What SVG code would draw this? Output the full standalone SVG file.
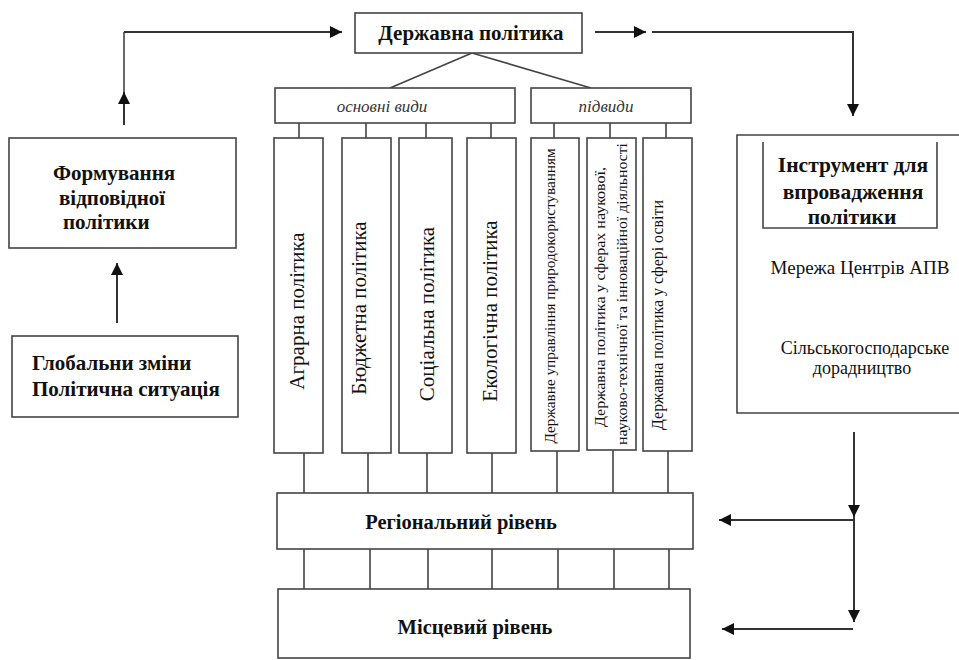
<svg xmlns="http://www.w3.org/2000/svg" width="959" height="660" viewBox="0 0 959 660">
<defs>
<marker id="ah" markerWidth="12" markerHeight="12" viewBox="0 0 12 12" refX="12" refY="6" orient="auto" markerUnits="userSpaceOnUse">
<path d="M0,0 L12,6 L0,12 Z" fill="#111"/>
</marker>
</defs>
<style>
.box{fill:#fff;stroke:#444;stroke-width:1.6}
.ln{fill:none;stroke:#444;stroke-width:1.6}
.ar{fill:none;stroke:#333;stroke-width:2;marker-end:url(#ah)}
text{fill:#111}
.b{font-weight:bold}
.i{font-style:italic;fill:#333;font-size:17px}
</style>
<rect width="959" height="660" fill="#fff"/>

<g id="connectors">
<line class="ln" x1="124" y1="125" x2="124" y2="32"/>
<line class="ar" x1="124" y1="125" x2="124" y2="92"/>
<line class="ar" x1="124" y1="32" x2="342" y2="32"/>
<line class="ar" x1="595" y1="32" x2="646" y2="32"/>
<path class="ar" d="M652,32 L853,32 L853,116"/>
<line class="ar" x1="117" y1="323" x2="117" y2="263"/>
<line class="ln" x1="390" y1="88" x2="472" y2="53"/>
<line class="ln" x1="472" y1="53" x2="591" y2="88"/>
<path class="ln" d="M299,123V138M366,123V138M426,123V138M491,123V138M554,123V138M610,123V138M666,123V138"/>
<path class="ln" d="M304,453V493M368,453V493M427,453V493M492,453V493M557,451V493M613,450V493M668,451V493"/>
<path class="ln" d="M304,549V589M370,549V589M428,549V589M492,549V589M558,549V589M614,549V589M669,549V589"/>
<line class="ar" x1="854" y1="432" x2="854" y2="517"/>
<line class="ar" x1="854" y1="517" x2="854" y2="622"/>
<line class="ar" x1="854" y1="520" x2="719" y2="520"/>
<line class="ar" x1="853" y1="629" x2="722" y2="629"/>
</g>

<g id="derzhavna">
<rect class="box" x="355" y="13" width="227" height="40"/>
<text class="b" font-family="Liberation Serif" x="471" y="40" font-size="21" text-anchor="middle">Державна політика</text>
</g>

<g id="osnovni">
<rect class="box" x="275" y="88" width="240" height="35"/>
<text class="i" font-family="Liberation Serif" x="382" y="112" text-anchor="middle">основні види</text>
</g>
<g id="pidvydy">
<rect class="box" x="531" y="88" width="160" height="35"/>
<text class="i" font-family="Liberation Serif" x="606" y="112" text-anchor="middle">підвиди</text>
</g>

<g id="ahrarna">
<rect class="box" x="274" y="138" width="49" height="315"/>
<text font-family="Liberation Serif" font-size="21" text-anchor="middle" transform="translate(304,311) rotate(-90)">Аграрна політика</text>
</g>
<g id="biudzhetna">
<rect class="box" x="342" y="138" width="49" height="315"/>
<text font-family="Liberation Serif" font-size="21" text-anchor="middle" transform="translate(366,308) rotate(-90)">Бюджетна політика</text>
</g>
<g id="sotsialna">
<rect class="box" x="399" y="138" width="53" height="315"/>
<text font-family="Liberation Serif" font-size="21" text-anchor="middle" transform="translate(434,314) rotate(-90)">Соціальна політика</text>
</g>
<g id="ekolohichna">
<rect class="box" x="467" y="138" width="49" height="315"/>
<text font-family="Liberation Serif" font-size="21" text-anchor="middle" transform="translate(497,311) rotate(-90)">Екологічна політика</text>
</g>
<g id="pryrodokorystuvannia">
<rect class="box" x="531" y="138" width="48" height="313"/>
<text font-family="Liberation Serif" font-size="15" text-anchor="middle" textLength="295" lengthAdjust="spacingAndGlyphs" transform="translate(555,296) rotate(-90)">Державне управління природокористуванням</text>
</g>
<g id="naukova">
<rect class="box" x="587" y="138" width="49" height="312"/>
<text font-family="Liberation Serif" font-size="15" text-anchor="middle" textLength="260" lengthAdjust="spacingAndGlyphs" transform="translate(605,297) rotate(-90)">Державна політика у сферах наукової,</text>
<text font-family="Liberation Serif" font-size="15" text-anchor="middle" textLength="302" lengthAdjust="spacingAndGlyphs" transform="translate(627,294) rotate(-90)">науково-технічної та інноваційної діяльності</text>
</g>
<g id="osvita">
<rect class="box" x="643" y="138" width="49" height="313"/>
<text font-family="Liberation Serif" font-size="16" text-anchor="middle" textLength="230" lengthAdjust="spacingAndGlyphs" transform="translate(663,315) rotate(-90)">Державна політика у сфері освіти</text>
</g>

<g id="rehionalnyi">
<rect class="box" x="277" y="493" width="416" height="56"/>
<text class="b" font-family="Liberation Serif" x="461" y="529" font-size="20.5" text-anchor="middle">Регіональний рівень</text>
</g>
<g id="mistsevyi">
<rect class="box" x="278" y="589" width="412" height="69"/>
<text class="b" font-family="Liberation Serif" x="475" y="634" font-size="20.5" text-anchor="middle">Місцевий рівень</text>
</g>

<g id="formuvannia">
<rect class="box" x="9" y="138" width="227" height="110"/>
<text class="b" font-family="Liberation Serif" font-size="21"><tspan x="53" y="180">Формування</tspan><tspan x="59" y="205">відповідної</tspan><tspan x="63" y="229">політики</tspan></text>
</g>
<g id="hlobalni">
<rect class="box" x="12" y="336" width="226" height="81"/>
<text class="b" font-family="Liberation Serif" font-size="21"><tspan x="32" y="370">Глобальни зміни</tspan><tspan x="32" y="396">Політична ситуація</tspan></text>
</g>

<g id="instrument">
<path class="ln" d="M960,135 H737 V413 H960"/>
<path class="ln" d="M763,142 V228 H937 V142"/>
<text class="b" font-family="Liberation Serif" font-size="21.5" text-anchor="middle"><tspan x="853" y="172">Інструмент для</tspan><tspan x="853" y="199">впровадження</tspan><tspan x="852" y="224">політики</tspan></text>
<text font-family="Liberation Serif" font-size="19" text-anchor="middle" x="860" y="274">Мережа Центрів АПВ</text>
<text font-family="Liberation Serif" font-size="18" text-anchor="middle"><tspan x="865" y="354">Сільськогосподарське</tspan><tspan x="862" y="374">дорадництво</tspan></text>
</g>
</svg>
